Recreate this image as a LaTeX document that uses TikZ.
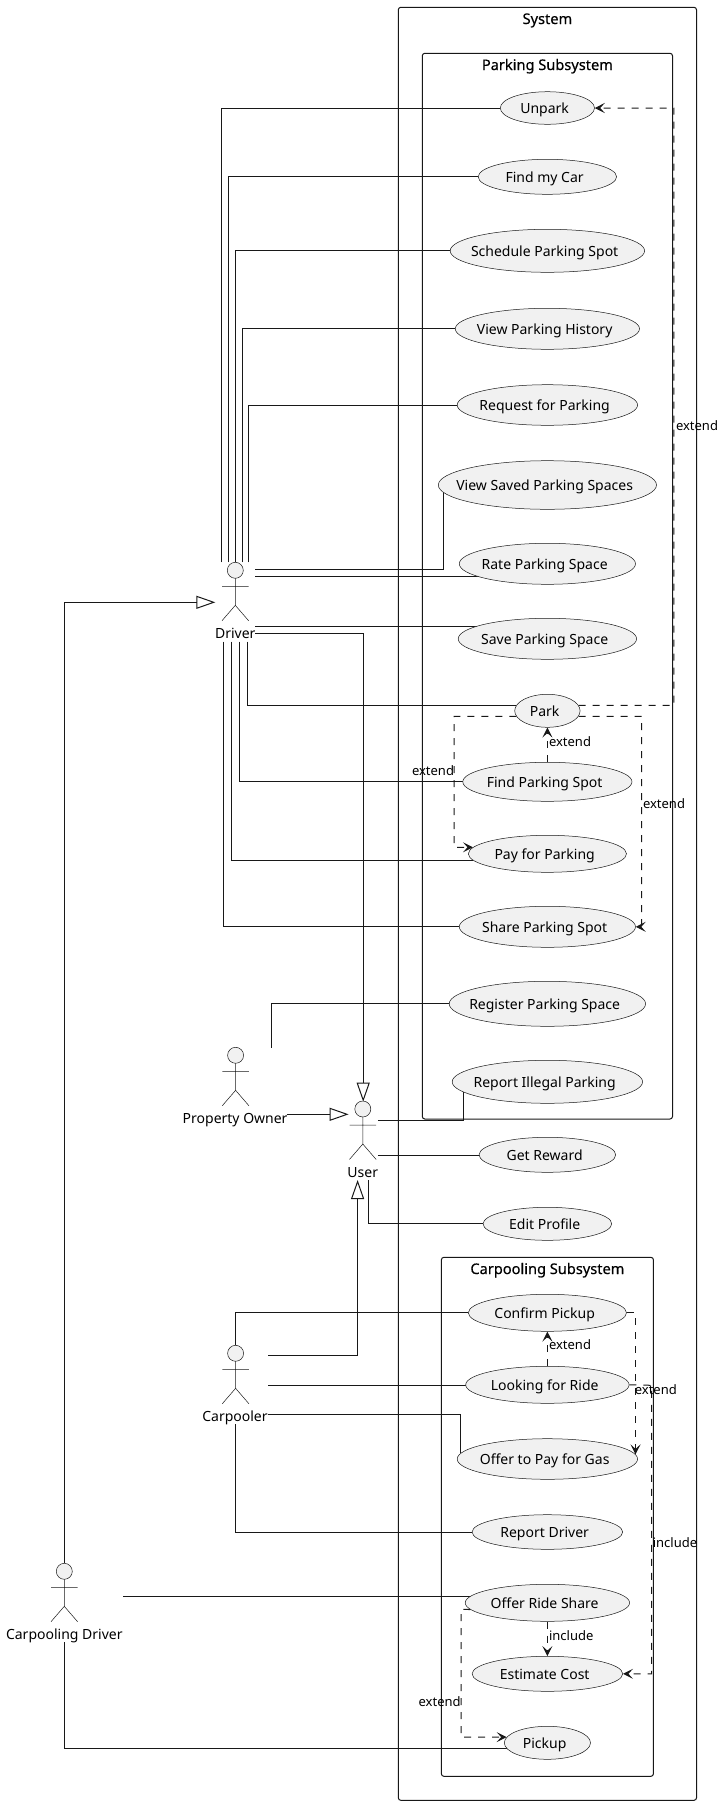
\documentclass[tikz,border=0pt]{standalone}
\usepackage{fontspec}
\setmainfont{Noto Sans}
\newfontfamily\titlefont[FakeBold=0.35]{Noto Sans}
\usetikzlibrary{shapes.geometric,arrows.meta,backgrounds}
\definecolor{ucfill}{HTML}{F1F1F1}
\definecolor{umlink}{HTML}{181818}
\tikzset{
  uc/.style={ellipse,draw=umlink,line width=0.5pt,fill=ucfill,inner xsep=-30pt,inner ysep=-4pt,text height=11pt,text depth=0pt,execute at end node={\kern5.5pt},font=\fontsize{14}{16}\selectfont},
  actname/.style={inner sep=0pt,text height=12pt,text depth=0pt,font=\fontsize{14}{16}\selectfont},
  deplabel/.style={inner sep=0pt,text height=9.5pt,text depth=0pt,font=\fontsize{13}{15}\selectfont},
  boxtitle/.style={inner sep=0pt,text height=10pt,text depth=0pt,font=\titlefont\fontsize{14.6}{16}\selectfont},
  sysbox/.style={draw=umlink,line width=1pt,rounded corners=2.5pt},
  assoc/.style={draw=umlink,line width=1pt},
  genarrow/.style={assoc,-{Triangle[open,length=19pt,width=13pt,line width=1pt]}},
  deparrow/.style={assoc,dash pattern=on 7pt off 7pt,-{Stealth[length=10pt,width=10pt,inset=4.5pt]}},
  stick/.pic={
    \draw[draw=umlink,line width=0.5pt,fill=ucfill] (0,0) circle (8pt);
    \draw[draw=umlink,line width=0.5pt] (0,8) -- (0,35) (-13.3,16) -- (13.3,16) (-13.3,50.4) -- (0,35) -- (13.3,50.4);
  }
}
\begin{document}
\begin{tikzpicture}[x=1pt,y=-1pt]
  \useasboundingbox (0,0) rectangle (725,1805);
  % actors
  \pic (driverfig) at (235.3,570.3) {stick};
  \pic (ownerfig) at (235.6,1055.3) {stick};
  \pic (userfig) at (362.8,1109) {stick};
  \pic (carpoolerfig) at (235.6,1353.3) {stick};
  \pic (cardriverfig) at (64.3,1571.3) {stick};
  \node[actname] (driver) at (235.3,632.3) {Driver};
  \node[actname] (owner) at (235.1,1117.3) {Property Owner};
  \node[actname] (user) at (362.8,1171) {User};
  \node[actname] (carpooler) at (235,1415.3) {Carpooler};
  \node[actname] (cardriver) at (64.3,1633.3) {Carpooling Driver};
  % parking subsystem
  \node[uc,minimum width=94.2pt,minimum height=32.6pt] (unpark) at (547.4,108) {Unpark};
  \node[uc,minimum width=138.4pt,minimum height=35pt] (findcar) at (547.4,176.8) {Find my Car};
  \node[uc,minimum width=194.4pt,minimum height=43pt] (schedule) at (547.4,250.8) {Schedule Parking Spot};
  \node[uc,minimum width=184.2pt,minimum height=41pt] (history) at (547.4,328.8) {View Parking History};
  \node[uc,minimum width=180.4pt,minimum height=40.6pt] (request) at (547.4,405) {Request for Parking};
  \node[uc,minimum width=218.2pt,minimum height=48.6pt] (saved) at (547.4,485) {View Saved Parking Spaces};
  \node[uc,minimum width=176.2pt,minimum height=41pt] (rate) at (547.4,563.8) {Rate Parking Space};
  \node[uc,minimum width=178.4pt,minimum height=41pt] (save) at (547.4,638.8) {Save Parking Space};
  \node[uc,minimum width=65.4pt,minimum height=33pt] (park) at (547.4,710.8) {Park};
  \node[uc,minimum width=169.2pt,minimum height=39pt] (findspot) at (547.4,781.8) {Find Parking Spot};
  \node[uc,minimum width=158.2pt,minimum height=37pt] (pay) at (547.4,853.8) {Pay for Parking};
  \node[uc,minimum width=176.2pt,minimum height=41pt] (share) at (547.4,926.8) {Share Parking Spot};
  \node[uc,minimum width=196.4pt,minimum height=45pt] (register) at (547.4,1003.8) {Register Parking Space};
  \node[uc,minimum width=190.4pt,minimum height=43pt] (illegal) at (547.4,1081.8) {Report Illegal Parking};
  % system level
  \node[uc,minimum width=136.6pt,minimum height=35pt] (reward) at (547.4,1154.8) {Get Reward};
  \node[uc,minimum width=128.6pt,minimum height=33pt] (profile) at (547.4,1223.8) {Edit Profile};
  % carpooling subsystem
  \node[uc,minimum width=158.2pt,minimum height=37pt] (confirm) at (547.4,1312.8) {Confirm Pickup};
  \node[uc,minimum width=163.4pt,minimum height=37pt] (looking) at (547.4,1384.8) {Looking for Ride};
  \node[uc,minimum width=180.4pt,minimum height=40.6pt] (offerpay) at (547.4,1459) {Offer to Pay for Gas};
  \node[uc,minimum width=150.6pt,minimum height=34.6pt] (repdriver) at (547.4,1532) {Report Driver};
  \node[uc,minimum width=164.4pt,minimum height=37pt] (offerride) at (547.4,1602.8) {Offer Ride Share};
  \node[uc,minimum width=150.6pt,minimum height=35pt] (estimate) at (547.4,1673.8) {Estimate Cost};
  \node[uc,minimum width=86.2pt,minimum height=33pt] (pickup) at (547.4,1742.8) {Pickup};
  % titles
  \node[boxtitle] (systemtitle) at (547.4,19) {System};
  \node[boxtitle] (parkingtitle) at (547.4,65) {Parking Subsystem};
  \node[boxtitle] (carpooltitle) at (547.4,1269) {Carpooling Subsystem};
  % free ends
  \coordinate (dsaved) at (255,569.3);
  \coordinate (drate) at (255,576.3);
  \coordinate (dsave) at (255,626.5);
  \coordinate (duser) at (255,633.3);
  \coordinate (usertop) at (363.2,1101.7);
  \coordinate (ownerend) at (286.7,1114.3);
  \coordinate (userleft) at (348.6,1114.3);
  \coordinate (ownerup) at (271.4,1047.7);
  \coordinate (usera) at (377.8,1120.3);
  \coordinate (userb) at (377.8,1155.3);
  \coordinate (userc) at (368.7,1180);
  \coordinate (userbelow) at (357.6,1180);
  \coordinate (cpup) at (235.6,1345);
  \coordinate (cpa) at (268.3,1355.3);
  \coordinate (cpb) at (268.3,1385.3);
  \coordinate (cpc) at (267.6,1414.3);
  \coordinate (cpd) at (235.6,1424.3);
  \coordinate (cdup) at (64.3,1562.7);
  \coordinate (cda) at (123,1596.3);
  \coordinate (cdb) at (64.3,1642.3);
  \coordinate (driverleft) at (215.3,602.3);
  \coordinate (parkfar) at (673.9,705.3);
  \coordinate (parkleft) at (454.2,716.3);
  \coordinate (parkright) at (641.6,716.3);
  \coordinate (lookfar) at (651.7,1385.3);
  \coordinate (ridefar) at (461.2,1609.3);
  \begin{scope}[on background layer]
    \draw[sysbox] (398.3,7.3) rectangle (696.5,1800.3);
    \draw[sysbox] (422.3,53.3) rectangle (672.5,1119);
    \draw[sysbox] (441.4,1257.3) rectangle (653.4,1776.3);
    % driver
    \foreach \x/\n in {221.6/unpark,228.3/findcar,235.3/schedule,242/history,248.6/request}{
      \coordinate (top\n) at (\x,562.3);
      \draw[assoc] (top\n) |- (\n);
    }
    \foreach \x/\n/\e in {247.3/park/park.170,239.6/findspot/findspot,231.7/pay/pay.185,223.7/share/share}{
      \coordinate (low\n) at (\x,641.7);
      \draw[assoc] (low\n) |- (\e);
    }
    \draw[assoc] (dsaved) -| (saved.184);
    \draw[assoc] (drate) -- (drate -| rate);
    \draw[assoc] (dsave) -- (dsave -| save);
    \draw[genarrow] (duser) -| (usertop);
    % owner
    \draw[assoc] (ownerup) |- (register);
    \draw[genarrow] (ownerend) -- (userleft);
    % user
    \draw[assoc] (usera) -| (illegal.187);
    \draw[assoc] (userb) -- (userb -| reward);
    \draw[assoc] (userc) |- (profile);
    % carpooler
    \draw[genarrow] (cpa) -| (userbelow);
    \draw[assoc] (cpup) |- (confirm);
    \draw[assoc] (cpb) -- (cpb -| looking);
    \draw[assoc] (cpc) -| (offerpay.176.4);
    \draw[assoc] (cpd) |- (repdriver);
    % carpooling driver
    \draw[genarrow] (cdup) |- (driverleft);
    \draw[assoc] (cda) -- (cda -| offerride);
    \draw[assoc] (cdb) |- (pickup.188);
    % dependencies
    \draw[deparrow] (park.10) -- (parkfar) |- (unpark);
    \draw[deparrow] (park.190) -- (parkleft) |- (pay.175);
    \draw[deparrow] (park.350) -- (parkright) |- (share);
    \draw[deparrow] (findspot) -- (park);
    \draw[deparrow] (looking) -- (confirm);
    \draw[deparrow] (confirm.east) -| (offerpay.3.8);
    \draw[deparrow] (looking.east) -- (lookfar) |- (estimate);
    \draw[deparrow] (offerride) -- (estimate);
    \draw[deparrow] (offerride.185) -- (ridefar) |- (pickup.172);
  \end{scope}
  % labels
  \node[deplabel] (lblunpark) at (697,425.7) {extend};
  \node[deplabel] (lblpay) at (433,770.7) {extend};
  \node[deplabel] (lblshare) at (664,803.7) {extend};
  \node[deplabel] (lblpark) at (570,741.7) {extend};
  \node[deplabel] (lblconfirm) at (570,1344.7) {extend};
  \node[deplabel] (lblgas) at (655.8,1389.3) {extend};
  \node[deplabel] (lblcost) at (675,1542.7) {include};
  \node[deplabel] (lblride) at (571.2,1635.3) {include};
  \node[deplabel] (lblpickup) at (439.6,1701.7) {extend};
\end{tikzpicture}
\end{document}
